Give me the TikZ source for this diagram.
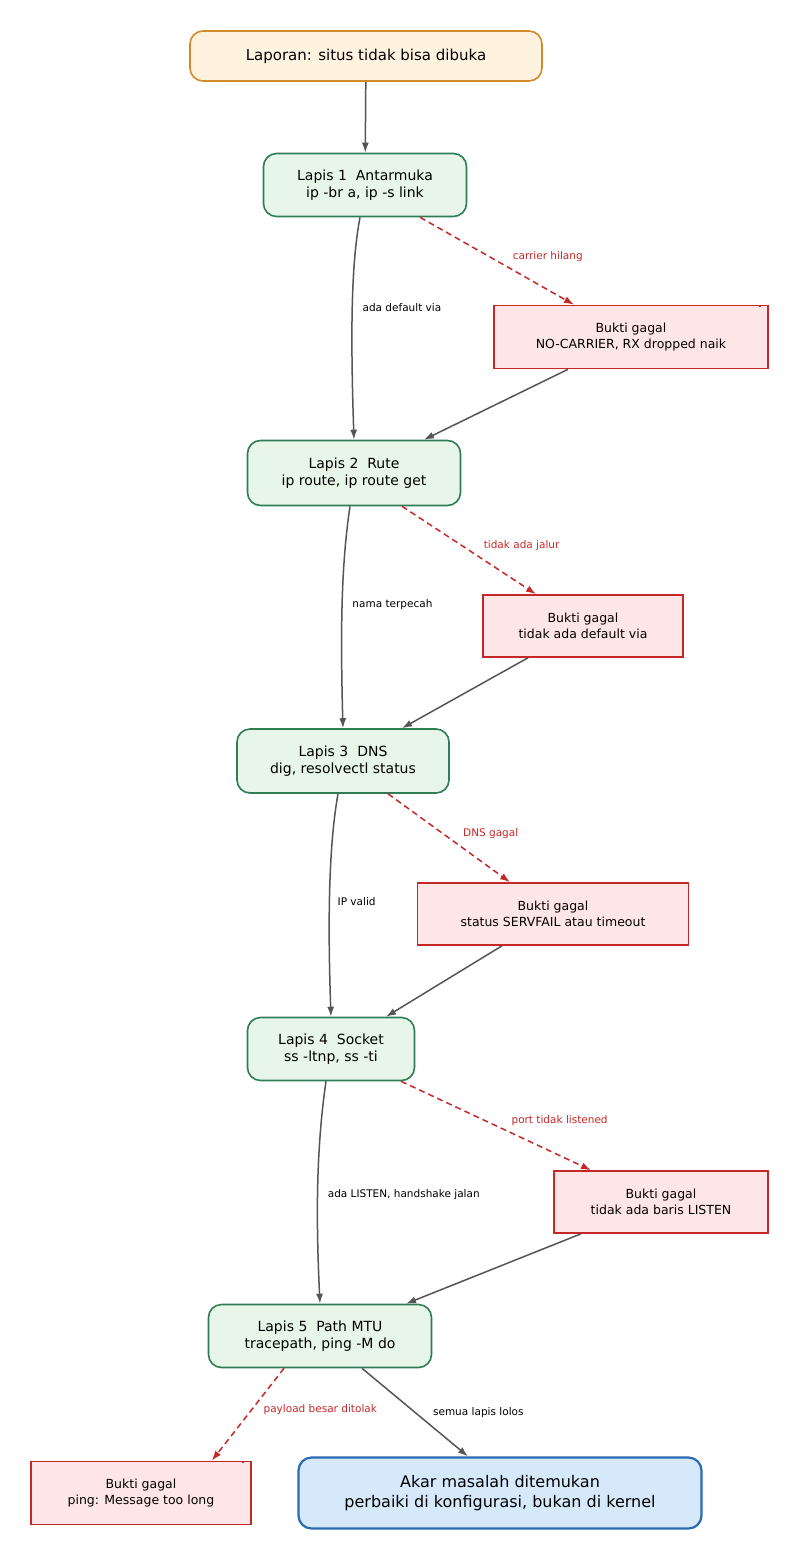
\documentclass[tikz,border=0pt]{standalone}
\usepackage{fontspec}
\setmainfont{DejaVu Sans}
\usetikzlibrary{arrows.meta}
\definecolor{cfill}{HTML}{FFF3E0}\definecolor{cbord}{HTML}{D08A2A}
\definecolor{gfill}{HTML}{E8F5E9}\definecolor{gbord}{HTML}{2E7D55}
\definecolor{rfill}{HTML}{FFE6E6}\definecolor{rbord}{HTML}{C62828}
\definecolor{bfill}{HTML}{D6E9FB}\definecolor{bbord}{HTML}{2B6CB0}
\definecolor{ecol}{HTML}{555555}
\begin{document}
\begin{tikzpicture}[x=1pt,y=-1pt,
 base/.style={draw,line width=1.6pt,rounded corners=13pt,align=center,inner sep=0pt,font=\fontsize{14}{17}\selectfont},
 layer/.style={base,fill=gfill,draw=gbord},
 ev/.style={draw=rbord,fill=rfill,line width=1.6pt,align=center,inner sep=0pt,font=\fontsize{12.5}{16}\selectfont,
   path picture={\draw[rbord,line width=1.2pt] ([xshift=-8pt,yshift=-1pt]path picture bounding box.north east)--++(0,9pt)--++(9pt,0);}},
 go/.style={draw=ecol,line width=1.5pt,-{Latex[length=10pt,width=7pt]}},
 fail/.style={draw=rbord,line width=1.5pt,dash pattern=on 6pt off 4pt,-{Latex[length=10pt,width=7pt]}},
 lab/.style={font=\fontsize{10.5}{12}\selectfont,text=black},
 flab/.style={font=\fontsize{10.5}{12}\selectfont,text=rbord}]
\useasboundingbox (0,0) rectangle (800,1560);
\fill[white] (0,0) rectangle (800,1560);
\node[base,fill=cfill,draw=cbord,minimum width=352pt,minimum height=50pt,font=\fontsize{15}{18}\selectfont] (top) at (366,56) {Laporan: situs tidak bisa dibuka};
\node[layer,minimum width=203pt,minimum height=63pt] (l1) at (365,185) {Lapis 1\ \ Antarmuka\\ip -br a, ip -s link};
\node[ev,minimum width=274pt,minimum height=63pt] (e1) at (631,337) {Bukti gagal\\NO-CARRIER, RX dropped naik};
\node[layer,minimum width=213pt,minimum height=65pt] (l2) at (354,473) {Lapis 2\ \ Rute\\ip route, ip route get};
\node[ev,minimum width=200pt,minimum height=62pt] (e2) at (583,626) {Bukti gagal\\tidak ada default via};
\node[layer,minimum width=212pt,minimum height=64pt] (l3) at (343,761) {Lapis 3\ \ DNS\\dig, resolvectl status};
\node[ev,minimum width=271pt,minimum height=62pt] (e3) at (553,914) {Bukti gagal\\status SERVFAIL atau timeout};
\node[layer,minimum width=167pt,minimum height=63pt] (l4) at (331,1049) {Lapis 4\ \ Socket\\ss -ltnp, ss -ti};
\node[ev,minimum width=214pt,minimum height=62pt] (e4) at (661,1202) {Bukti gagal\\tidak ada baris LISTEN};
\node[layer,minimum width=223pt,minimum height=63pt] (l5) at (320,1336) {Lapis 5\ \ Path MTU\\tracepath, ping -M do};
\node[ev,minimum width=220pt,minimum height=63pt] (e5) at (141,1493) {Bukti gagal\\ping: Message too long};
\node[base,fill=bfill,draw=bbord,line width=2.2pt,minimum width=403pt,minimum height=71pt,font=\fontsize{16}{20}\selectfont] (root) at (500,1493) {Akar masalah ditemukan\\perbaiki di konfigurasi, bukan di kernel};

\draw[go] (top) -- (l1);
\draw[go] ([xshift=-5pt]l1.south) .. controls (352,260) and (350,320) .. (l2.north) node[lab,pos=0.5,anchor=west,xshift=6pt,yshift=-8pt] {ada default via};
\draw[fail] ([xshift=55pt]l1.south) -- ([xshift=-57pt]e1.north) node[flab,pos=0.55,anchor=south west,xshift=4pt] {carrier hilang};
\draw[go] ([xshift=-63pt]e1.south) -- ([xshift=70pt]l2.north);
\draw[go] ([xshift=-4pt]l2.south) .. controls (342,560) and (340,620) .. (l3.north) node[lab,pos=0.5,anchor=west,xshift=6pt,yshift=-8pt] {nama terpecah};
\draw[fail] ([xshift=48pt]l2.south) -- ([xshift=-47pt]e2.north) node[flab,pos=0.55,anchor=south west,xshift=4pt] {tidak ada jalur};
\draw[go] ([xshift=-55pt]e2.south) -- ([xshift=59pt]l3.north);
\draw[go] ([xshift=-5pt]l3.south) .. controls (328,850) and (328,930) .. (l4.north) node[lab,pos=0.5,anchor=west,xshift=4pt,yshift=-8pt] {IP valid};
\draw[fail] ([xshift=45pt]l3.south) -- ([xshift=-43pt]e3.north) node[flab,pos=0.55,anchor=south west,xshift=4pt] {DNS gagal};
\draw[go] ([xshift=-51pt]e3.south) -- ([xshift=55pt]l4.north);
\draw[go] ([xshift=-5pt]l4.south) .. controls (316,1150) and (316,1220) .. (l5.north) node[lab,pos=0.5,anchor=west,xshift=6pt,yshift=-8pt] {ada LISTEN, handshake jalan};
\draw[fail] ([xshift=70pt]l4.south) -- ([xshift=-70pt]e4.north) node[flab,pos=0.55,anchor=south west,xshift=2pt] {port tidak listened};
\draw[go] ([xshift=-80pt]e4.south) -- ([xshift=86pt]l5.north);
\draw[fail] ([xshift=-36pt]l5.south) -- ([xshift=-40pt]e5.north east) node[flab,pos=0.45,anchor=west,xshift=8pt] {payload besar ditolak};
\draw[go] ([xshift=42pt]l5.south) -- ([xshift=-32pt]root.north) node[lab,pos=0.5,anchor=west,xshift=14pt] {semua lapis lolos};
\end{tikzpicture}
\end{document}
